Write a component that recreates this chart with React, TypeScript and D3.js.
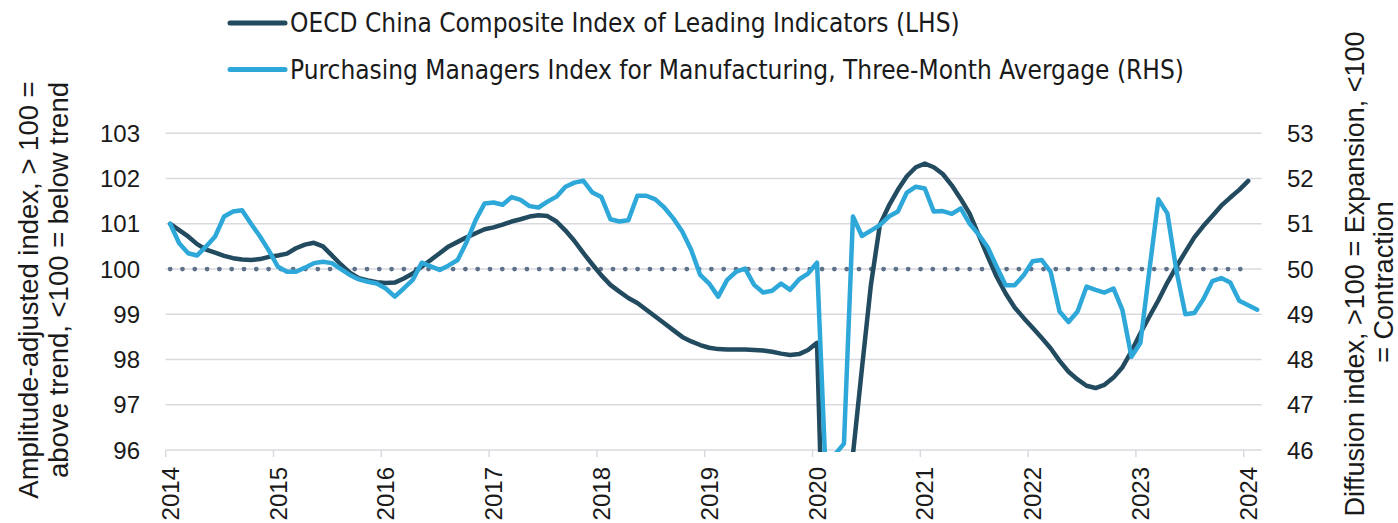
import React, { useEffect, useRef } from 'react';
import * as d3 from 'd3';

// monthly, Jan 2014 onwards
const yearLabels = ['2014', '2015', '2016', '2017', '2018', '2019', '2020', '2021', '2022', '2023', '2024'];
const leftTicks = [96, 97, 98, 99, 100, 101, 102, 103];
const rightTicks = [46, 47, 48, 49, 50, 51, 52, 53];

// OECD China CLI, amplitude adjusted (LHS), Jan 2014 - Jan 2024
const cliValues = [
  101.0, 100.86, 100.72, 100.55, 100.43, 100.36, 100.29, 100.24, 100.21, 100.2, 100.22, 100.27,
  100.3, 100.34, 100.46, 100.54, 100.58, 100.5, 100.3, 100.1, 99.92, 99.8, 99.75, 99.71,
  99.69, 99.7, 99.79, 99.9, 100.05, 100.2, 100.35, 100.5, 100.6, 100.7, 100.79, 100.88,
  100.92, 100.98, 101.05, 101.1, 101.16, 101.19, 101.17, 101.05, 100.85, 100.62, 100.35, 100.1,
  99.86, 99.65, 99.5, 99.36, 99.25, 99.1, 98.95, 98.8, 98.65, 98.5, 98.4, 98.32,
  98.26, 98.23, 98.22, 98.22, 98.22, 98.21, 98.2, 98.17, 98.13, 98.1, 98.12, 98.21,
  98.37, 91.5, 92.0, 93.5, 95.9, 97.8, 99.65, 100.98, 101.4, 101.75, 102.05, 102.25,
  102.33, 102.25, 102.1, 101.85, 101.55, 101.22, 100.75, 100.28, 99.83, 99.46, 99.15, 98.92,
  98.7, 98.48, 98.25, 97.97, 97.73, 97.56, 97.42, 97.37, 97.44, 97.6, 97.83, 98.18,
  98.58, 98.95, 99.31, 99.7, 100.05, 100.38, 100.7, 100.95, 101.17, 101.4, 101.58, 101.75,
  101.95,
];

// NBS manufacturing PMI, 3-month average (RHS), Jan 2014 - Feb 2024
const pmiValues = [
  51.0, 50.57, 50.35, 50.3, 50.5, 50.72, 51.16, 51.27, 51.3, 51.0, 50.72, 50.4,
  50.05, 49.94, 49.94, 50.03, 50.13, 50.16, 50.13, 50.0, 49.87, 49.77, 49.72, 49.68,
  49.57, 49.39, 49.57, 49.76, 50.14, 50.06, 49.98, 50.08, 50.2, 50.6, 51.08, 51.45,
  51.47, 51.42, 51.59, 51.53, 51.39, 51.36, 51.49, 51.6, 51.82, 51.91, 51.95, 51.69,
  51.59, 51.1, 51.05, 51.08, 51.62, 51.62, 51.54, 51.36, 51.12, 50.83, 50.42, 49.87,
  49.68, 49.39, 49.76, 49.94, 50.01, 49.65, 49.48, 49.52, 49.68, 49.54, 49.77, 49.9,
  50.14, 45.3, 45.9, 46.14, 51.16, 50.73, 50.85, 50.97, 51.16, 51.27, 51.69, 51.82,
  51.78, 51.27, 51.28, 51.22, 51.34, 51.0, 50.76, 50.48, 50.05, 49.64, 49.64, 49.86,
  50.17, 50.2, 49.94, 49.06, 48.83, 49.06, 49.61, 49.54, 49.48, 49.57, 49.09, 48.06,
  48.37, 49.98, 51.54, 51.23, 49.97, 49.0, 49.03, 49.33, 49.73, 49.8, 49.7, 49.3,
  49.2, 49.1,
];

const trendLevel = 100;

const legendItems = [
  { label: 'OECD China Composite Index of Leading Indicators (LHS)', color: '#234b60' },
  { label: 'Purchasing Managers Index for Manufacturing, Three-Month Avergage (RHS)', color: '#2ea7d9' },
];

const leftTitle = ['Amplitude-adjusted index, > 100 =', 'above trend, <100 = below trend'];
const rightTitle = ['Diffusion index, >100 = Expansion, <100', '= Contraction'];

const tickFont = '"Liberation Sans", Arial, sans-serif';
const legendFont = '"DejaVu Sans Condensed", "DejaVu Sans", sans-serif';
const textColor = '#1a1a1a';

export default function App() {
  const ref = useRef<SVGSVGElement>(null);

  useEffect(() => {
    const svg = d3.select(ref.current);
    svg.selectAll('*').remove();

    const left = 165.7, right = 1261.7, top = 133.3, bottom = 450;
    const x = d3.scaleLinear().domain([0, 122]).range([left, right]);
    const yL = d3.scaleLinear().domain([96, 103]).range([bottom, top]);
    const yR = d3.scaleLinear().domain([46, 53]).range([bottom, top]);

    svg.append('defs').append('clipPath').attr('id', 'plot')
      .append('rect')
      .attr('x', left - 10).attr('y', top - 10)
      .attr('width', right - left + 20).attr('height', bottom - top + 12);

    // gridlines
    svg.selectAll('line.grid')
      .data(leftTicks.filter(d => d > 96))
      .join('line')
      .attr('class', 'grid')
      .attr('x1', left).attr('x2', right)
      .attr('y1', d => yL(d)).attr('y2', d => yL(d))
      .attr('stroke', '#d9d9df').attr('stroke-width', 1.5);

    // bottom axis
    svg.append('line')
      .attr('x1', left).attr('x2', right)
      .attr('y1', bottom).attr('y2', bottom)
      .attr('stroke', '#d9d9df').attr('stroke-width', 1.5);
    svg.selectAll('line.xtick')
      .data(yearLabels)
      .join('line')
      .attr('class', 'xtick')
      .attr('x1', (d, i) => x(i * 12)).attr('x2', (d, i) => x(i * 12))
      .attr('y1', bottom).attr('y2', bottom + 7)
      .attr('stroke', '#d9d9df').attr('stroke-width', 1.5);

    svg.selectAll('text.xlab')
      .data(yearLabels)
      .join('text')
      .attr('class', 'xlab')
      .attr('transform', (d, i) => `translate(${x(i * 12) + 13},467) rotate(-90)`)
      .attr('text-anchor', 'end')
      .attr('font-family', tickFont).attr('font-size', 24).attr('fill', textColor)
      .text(d => d);

    svg.selectAll('text.ylab')
      .data(leftTicks)
      .join('text')
      .attr('class', 'ylab')
      .attr('x', 140).attr('y', d => yL(d) + 8.5)
      .attr('text-anchor', 'end')
      .attr('font-family', tickFont).attr('font-size', 24).attr('fill', textColor)
      .text(d => d);

    svg.selectAll('text.rlab')
      .data(rightTicks)
      .join('text')
      .attr('class', 'rlab')
      .attr('x', 1287).attr('y', d => yR(d) + 8.5)
      .attr('text-anchor', 'start')
      .attr('font-family', tickFont).attr('font-size', 24).attr('fill', textColor)
      .text(d => d);

    const plot = svg.append('g').attr('clip-path', 'url(#plot)');

    // 100 = trend, dotted
    plot.append('line')
      .attr('x1', x(0.5)).attr('x2', x(cliValues.length - 0.5))
      .attr('y1', yL(trendLevel)).attr('y2', yL(trendLevel))
      .attr('stroke', '#5d7189').attr('stroke-width', 4.8)
      .attr('stroke-linecap', 'round')
      .attr('stroke-dasharray', '0 12.3');

    const cliLine = d3.line<number>().x((d, i) => x(i + 0.5)).y(d => yL(d));
    const pmiLine = d3.line<number>().x((d, i) => x(i + 0.5)).y(d => yR(d));

    plot.append('path')
      .attr('d', cliLine(cliValues))
      .attr('fill', 'none').attr('stroke', legendItems[0].color)
      .attr('stroke-width', 4.5).attr('stroke-linejoin', 'round').attr('stroke-linecap', 'round');

    plot.append('path')
      .attr('d', pmiLine(pmiValues))
      .attr('fill', 'none').attr('stroke', legendItems[1].color)
      .attr('stroke-width', 4.5).attr('stroke-linejoin', 'round').attr('stroke-linecap', 'round');

    // legend
    const leg = svg.selectAll('g.leg')
      .data(legendItems)
      .join('g')
      .attr('class', 'leg')
      .attr('transform', (d, i) => `translate(230,${23 + i * 46.5})`);
    leg.append('line')
      .attr('x1', 0).attr('x2', 55).attr('y1', 0).attr('y2', 0)
      .attr('stroke', d => d.color).attr('stroke-width', 5).attr('stroke-linecap', 'round');
    leg.append('text')
      .attr('x', 60).attr('y', 9)
      .attr('font-family', legendFont).attr('font-size', 26).attr('fill', textColor)
      .text(d => d.label);

    // axis titles
    svg.selectAll('text.ltitle')
      .data(leftTitle)
      .join('text')
      .attr('class', 'ltitle')
      .attr('transform', (d, i) => `translate(${38 + i * 30},${290 - i * 10}) rotate(-90)`)
      .attr('text-anchor', 'middle')
      .attr('font-family', tickFont).attr('font-size', 27.5).attr('fill', textColor)
      .text(d => d);

    svg.selectAll('text.rtitle')
      .data(rightTitle)
      .join('text')
      .attr('class', 'rtitle')
      .attr('transform', (d, i) => `translate(${1364 + i * 29},${274 + i * 8}) rotate(-90)`)
      .attr('text-anchor', 'middle')
      .attr('font-family', tickFont).attr('font-size', 27).attr('fill', textColor)
      .text(d => d);
  }, []);

  return (
    <svg ref={ref} width={1398} height={523} style={{ position: 'absolute', left: 0, top: 0, background: '#fff' }} />
  );
}
